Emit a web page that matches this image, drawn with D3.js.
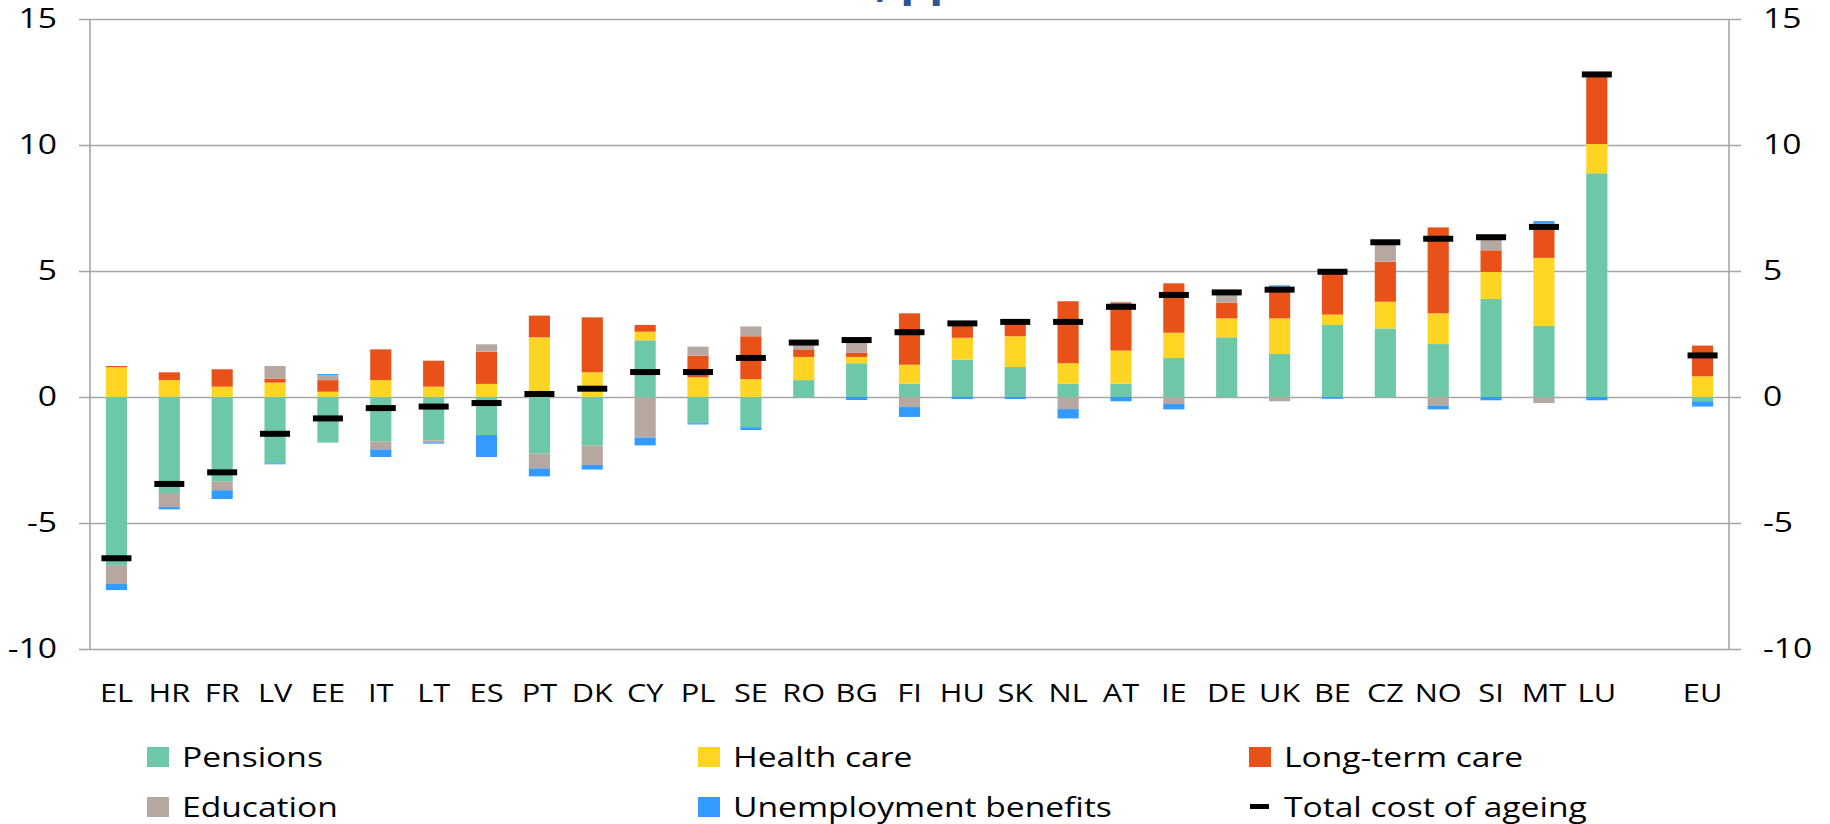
<!DOCTYPE html>
<html>
<head>
<meta charset="utf-8">
<script src="https://cdn.jsdelivr.net/npm/d3@7"></script>
<style>
  body { margin: 0; background: #fff; }
  text { font-family: "Open Sans", sans-serif; fill: #000; }
</style>
</head>
<body>
<svg id="chart" width="1830" height="824"></svg>
<script>
// country codes, EU average comes last after an empty slot
const countries = ["EL","HR","FR","LV","EE","IT","LT","ES","PT","DK","CY","PL","SE","RO","BG",
  "FI","HU","SK","NL","AT","IE","DE","UK","BE","CZ","NO","SI","MT","LU","EU"];

// change in spending, pp of GDP
const pensions     = [-6.67,-3.81,-3.35,-2.63,-1.81,-1.77,-1.72,-1.51,-2.24,-1.93, 2.25,-1.04,-1.20, 0.67, 1.34,
  0.53, 1.48, 1.19, 0.53, 0.53, 1.55, 2.37, 1.71, 2.86, 2.72, 2.10, 3.89, 2.82, 8.88,-0.17];
const healthCare   = [ 1.18, 0.67, 0.41, 0.57, 0.21, 0.67, 0.41, 0.52, 2.37, 0.98, 0.34, 0.78, 0.71, 0.92, 0.25,
  0.75, 0.87, 1.22, 0.81, 1.31, 1.00, 0.75, 1.41, 0.41, 1.06, 1.22, 1.07, 2.70, 1.16, 0.82];
const longTermCare = [ 0.05, 0.31, 0.69, 0.16, 0.46, 1.22, 1.03, 1.28, 0.86, 2.18, 0.27, 0.86, 1.70, 0.30, 0.16,
  2.04, 0.50, 0.55, 2.46, 1.89, 1.96, 0.62, 1.26, 1.70, 1.59, 3.41, 0.86, 1.36, 2.74, 1.22];
const education    = [-0.75,-0.56,-0.35, 0.50, 0.20,-0.31,-0.08, 0.29,-0.59,-0.77,-1.61, 0.36, 0.39, 0.20, 0.45,
 -0.40, 0.00, 0.00,-0.48, 0.05,-0.28, 0.41,-0.17, 0.00, 0.77,-0.34, 0.52,-0.24, 0.00, 0.00];
const unemployment = [-0.24,-0.09,-0.35,-0.04, 0.04,-0.30,-0.05,-0.87,-0.32,-0.18,-0.31,-0.05,-0.11, 0.00,-0.12,
 -0.39,-0.08,-0.08,-0.37,-0.17,-0.21, 0.00, 0.05,-0.07, 0.00,-0.15,-0.13, 0.10,-0.13,-0.21];
const totalCost    = [-6.40,-3.45,-2.99,-1.46,-0.85,-0.44,-0.38,-0.24, 0.12, 0.33, 0.99, 0.99, 1.55, 2.16, 2.26,
  2.57, 2.92, 2.98, 2.98, 3.58, 4.05, 4.15, 4.26, 4.97, 6.14, 6.28, 6.34, 6.75,12.80, 1.65];

const yTicks = [-10, -5, 0, 5, 10, 15];

const seriesKeys   = ["pensions","health","ltc","education","unemployment"];
const seriesNames  = ["Pensions","Health care","Long-term care","Education","Unemployment benefits"];
const seriesColors = ["#6dc8a8","#ffd524","#e85118","#b6a8a0","#339bff"];

const SX = 1.2; // text in the original is a bit stretched sideways

const rows = countries.map((c, i) => ({
  country: c,
  pensions: pensions[i],
  health: healthCare[i],
  ltc: longTermCare[i],
  education: education[i],
  unemployment: unemployment[i],
  total: totalCost[i]
}));

// empty slot before EU
const xDomain = countries.slice(0, -1).concat([" ", "EU"]);

const svg = d3.select("#chart");

const x = d3.scaleBand()
  .domain(xDomain)
  .range([90, 1729])
  .paddingInner(0.6)
  .paddingOuter(0.3);

const y = d3.scaleLinear()
  .domain([-10, 15])
  .range([649, 19]);

const color = d3.scaleOrdinal().domain(seriesKeys).range(seriesColors);

// plain hyphen for negatives, like the original
const fmt = d => String(d);

// title, only the bottom of it shows in the frame
svg.append("text")
  .attr("transform", `translate(958,-3) scale(${SX},1)`)
  .attr("text-anchor", "end")
  .style("font-size", "38px")
  .style("font-weight", "bold")
  .style("fill", "#2f5496")
  .text("2016-2070, pp");

// gridlines + left labels
const leftAxis = svg.append("g")
  .attr("transform", "translate(79,0)")
  .call(d3.axisLeft(y).tickValues(yTicks).tickFormat(fmt).tickSize(-(1741 - 79)).tickPadding(22));
leftAxis.select(".domain").remove();
leftAxis.selectAll("line").attr("stroke", "#a6a6a6").attr("stroke-width", 1.6);
leftAxis.selectAll("text")
  .attr("x", null)
  .attr("transform", `translate(-22,0) scale(${SX},1)`)
  .style("font-size", "28px")
  .style("font-family", "'Open Sans', sans-serif")
  .attr("fill", "#000");

// right labels
const rightAxis = svg.append("g")
  .attr("transform", "translate(1741,0)")
  .call(d3.axisRight(y).tickValues(yTicks).tickFormat(fmt).tickSize(0).tickPadding(22));
rightAxis.select(".domain").remove();
rightAxis.selectAll("text")
  .attr("x", null)
  .attr("transform", `translate(22,0) scale(${SX},1)`)
  .style("font-size", "28px")
  .style("font-family", "'Open Sans', sans-serif")
  .attr("fill", "#000");

// vertical axis lines
svg.append("g").selectAll("line")
  .data(x.range())
  .join("line")
  .attr("x1", d => d).attr("x2", d => d)
  .attr("y1", y(15)).attr("y2", y(-10))
  .attr("stroke", "#a6a6a6")
  .attr("stroke-width", 1.6);

// stacked bars, positives up and negatives down
const stacked = d3.stack()
  .keys(seriesKeys)
  .offset(d3.stackOffsetDiverging)(rows);

svg.append("g").selectAll("g")
  .data(stacked)
  .join("g")
  .attr("fill", d => color(d.key))
  .selectAll("rect")
  .data(d => d)
  .join("rect")
  .attr("x", d => x(d.data.country))
  .attr("width", x.bandwidth())
  .attr("y", d => y(Math.max(d[0], d[1])))
  .attr("height", d => Math.abs(y(d[0]) - y(d[1])));

// total cost markers
const markW = 30, markH = 6;
svg.append("g").selectAll("rect")
  .data(rows)
  .join("rect")
  .attr("x", d => x(d.country) + x.bandwidth() / 2 - markW / 2)
  .attr("y", d => y(d.total) - markH / 2)
  .attr("width", markW)
  .attr("height", markH)
  .attr("fill", "#000");

// category labels
const bottomAxis = svg.append("g")
  .attr("transform", `translate(0,${y(-10)})`)
  .call(d3.axisBottom(x).tickSize(0).tickPadding(34));
bottomAxis.select(".domain").remove();
bottomAxis.selectAll("text")
  .attr("y", null)
  .attr("dy", null)
  .attr("transform", `translate(0,53) scale(${SX},1)`)
  .style("font-size", "25.6px")
  .style("font-family", "'Open Sans', sans-serif")
  .attr("fill", "#000");

// legend
const legendItems = seriesNames.map((n, i) => ({ name: n, color: seriesColors[i], kind: "box" }))
  .concat([{ name: "Total cost of ageing", color: "#000", kind: "dash" }]);
const colX = [147, 698, 1249];
const rowY = [767, 817];

const leg = svg.append("g").selectAll("g")
  .data(legendItems)
  .join("g")
  .attr("transform", (d, i) => `translate(${colX[i % 3]},${rowY[Math.floor(i / 3)]})`);

leg.filter(d => d.kind === "box").append("rect")
  .attr("x", 0).attr("y", -20)
  .attr("width", 22).attr("height", 20)
  .attr("fill", d => d.color);

leg.filter(d => d.kind === "dash").append("rect")
  .attr("x", 1).attr("y", -13)
  .attr("width", 19).attr("height", 5)
  .attr("fill", "#000");

leg.append("text")
  .attr("transform", `translate(35,0) scale(${SX},1)`)
  .style("font-size", "28px")
  .text(d => d.name);
</script>
</body>
</html>
